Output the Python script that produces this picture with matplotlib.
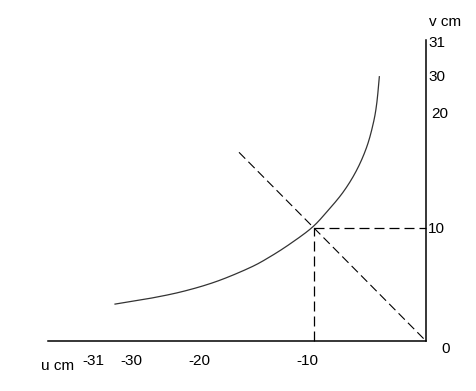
import numpy as np
import matplotlib.pyplot as plt

plt.rcParams['font.family'] = ['Liberation Sans', 'DejaVu Sans']

# curve (u, v in cm)
u_curve = [-27.77, -24.64, -21.67, -18.69, -15.71, -13.93, -12.14, -10.21,
           -8.87, -7.38, -6.19, -5.29, -4.71, -4.40, -4.17]
v_curve = [3.27, 3.78, 4.40, 5.28, 6.50, 7.46, 8.60, 10.02,
           11.42, 13.21, 15.13, 17.19, 19.27, 21.04, 23.39]

# marked point and the v = -u line
u_mark, v_mark = -10, 10
u_diag = [-16.7, 0]
v_diag = [16.7, 0]

x_labels = ['-31', '-30', '-20', '-10']
y_labels = ['31', '30', '20', '10']


def catmull_rom(xs, ys, n=20):
    # smooth drawing path through the read points
    p = np.column_stack([xs, ys])
    p = np.vstack([p[0], p, p[-1]])
    out = []
    for i in range(1, len(p) - 2):
        p0, p1, p2, p3 = p[i - 1], p[i], p[i + 1], p[i + 2]
        t = np.linspace(0, 1, n, endpoint=False)[:, None]
        out.append(0.5 * ((2 * p1) + (-p0 + p2) * t
                          + (2 * p0 - 5 * p1 + 4 * p2 - p3) * t ** 2
                          + (-p0 + 3 * p1 - 3 * p2 + p3) * t ** 3))
    out.append(p[-2][None, :])
    out = np.vstack(out)
    return out[:, 0], out[:, 1]


fig = plt.figure(figsize=(4.77, 3.91), dpi=100)
ax = fig.add_axes([0, 0, 1, 1])
ax.set_xlim(-38.04, 4.55)
ax.set_ylim(-4.42, 30.18)

uc, vc = catmull_rom(u_curve, v_curve)
ax.plot(uc, vc, color='#333333', lw=0.9)

dash = (8, 4)
ax.plot(u_diag, v_diag, color='black', lw=0.8, dashes=dash)
ax.plot([u_mark, u_mark], [0, v_mark], color='black', lw=0.9, dashes=dash)
ax.plot([u_mark, 0], [v_mark, v_mark], color='black', lw=0.9, dashes=dash)

# axes as spines through the origin
for s in ['top', 'left']:
    ax.spines[s].set_visible(False)
ax.spines['bottom'].set_position(('data', 0))
ax.spines['bottom'].set_bounds(-33.75, 0)
ax.spines['right'].set_position(('data', 0))
ax.spines['right'].set_bounds(0, 26.6)
for s in ['bottom', 'right']:
    ax.spines[s].set_linewidth(1.1)
ax.set_xticks([])
ax.set_yticks([])
ax.patch.set_visible(False)

fs = 11
for lab, x in zip(x_labels, [-29.7, -26.3, -20.2, -10.6]):
    ax.text(x, -1.77, lab, ha='center', va='center', fontsize=fs)
ax.text(1.79, -0.71, '0', ha='center', va='center', fontsize=fs)
ax.text(-32.9, -2.2, 'u cm', ha='center', va='center', fontsize=fs)

for lab, x, y in zip(y_labels, [0.18, 0.18, 0.5, 0.18], [26.4, 23.4, 20.1, 9.9]):
    ax.text(x, y, lab, ha='left', va='center', fontsize=fs)
ax.text(1.7, 28.2, 'v cm', ha='center', va='center', fontsize=fs)

fig.savefig('out.png', dpi=100)
